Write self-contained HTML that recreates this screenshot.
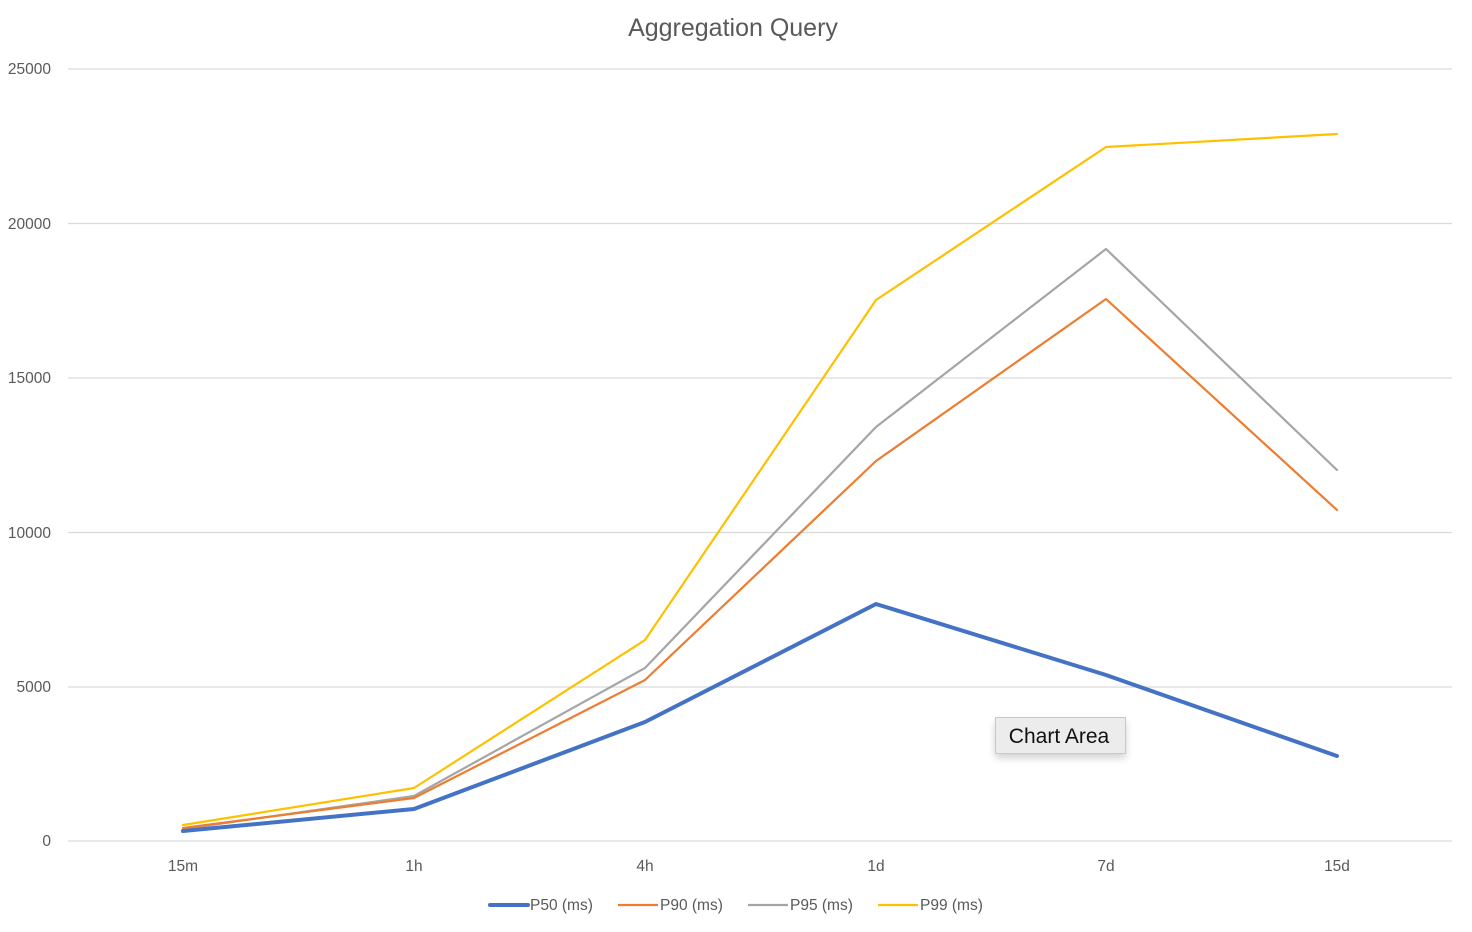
<!DOCTYPE html>
<html><head><meta charset="utf-8"><style>
html,body{margin:0;padding:0;background:#fff;}
svg{display:block;font-family:"Liberation Sans",sans-serif;}
</style></head><body>
<svg width="1472" height="932" viewBox="0 0 1472 932" xmlns="http://www.w3.org/2000/svg">
<defs><filter id="sh" x="-20%" y="-40%" width="140%" height="200%"><feGaussianBlur stdDeviation="4"/></filter></defs>
<rect width="1472" height="932" fill="#fff"/>
<text x="733" y="36" text-anchor="middle" font-size="25" fill="#595959">Aggregation Query</text>
<g stroke="#d9d9d9" stroke-width="1.3">
<line x1="68" y1="69" x2="1452" y2="69"/>
<line x1="68" y1="223.5" x2="1452" y2="223.5"/>
<line x1="68" y1="378" x2="1452" y2="378"/>
<line x1="68" y1="532.5" x2="1452" y2="532.5"/>
<line x1="68" y1="687" x2="1452" y2="687"/>
<line x1="68" y1="841" x2="1452" y2="841"/>
</g>
<g font-size="15.5" fill="#595959" text-anchor="end">
<text x="51" y="74">25000</text>
<text x="51" y="229">20000</text>
<text x="51" y="383">15000</text>
<text x="51" y="538">10000</text>
<text x="51" y="692">5000</text>
<text x="51" y="846">0</text>
</g>
<g font-size="15.5" fill="#595959" text-anchor="middle">
<text x="183" y="871">15m</text>
<text x="414" y="871">1h</text>
<text x="645" y="871">4h</text>
<text x="876" y="871">1d</text>
<text x="1106" y="871">7d</text>
<text x="1337" y="871">15d</text>
</g>
<g fill="none" stroke-linejoin="round" stroke-linecap="round">
<polyline stroke="#ffc000" stroke-width="2.2" points="183,825 414,788 645,640 876,300 1106,147 1337,134"/>
<polyline stroke="#a5a5a5" stroke-width="2.2" points="183,829 414,796 645,668 876,427 1106,249 1337,470"/>
<polyline stroke="#ed7d31" stroke-width="2.2" points="183,828 414,798 645,680 876,461 1106,299 1337,510"/>
<polyline stroke="#4472c4" stroke-width="4" points="183,831 414,809 645,722 876,604 1106,675 1337,756"/>
</g>
<g font-size="15.5" fill="#595959">
<line x1="490" y1="905" x2="528" y2="905" stroke="#4472c4" stroke-width="4" stroke-linecap="round"/>
<text x="530" y="910">P50 (ms)</text>
<line x1="618" y1="905" x2="658" y2="905" stroke="#ed7d31" stroke-width="2.2"/>
<text x="660" y="910">P90 (ms)</text>
<line x1="748" y1="905" x2="788" y2="905" stroke="#a5a5a5" stroke-width="2.2"/>
<text x="790" y="910">P95 (ms)</text>
<line x1="878" y1="905" x2="918" y2="905" stroke="#ffc000" stroke-width="2.2"/>
<text x="920" y="910">P99 (ms)</text>
</g>
<rect x="995" y="722" width="131" height="36" fill="#000" opacity="0.18" filter="url(#sh)"/>
<rect x="995.5" y="717.5" width="130" height="36" fill="#ececec" stroke="#c8c8c8" stroke-width="1"/>
<text x="1059" y="743" text-anchor="middle" font-size="21" fill="#111">Chart Area</text>
</svg>
</body></html>
